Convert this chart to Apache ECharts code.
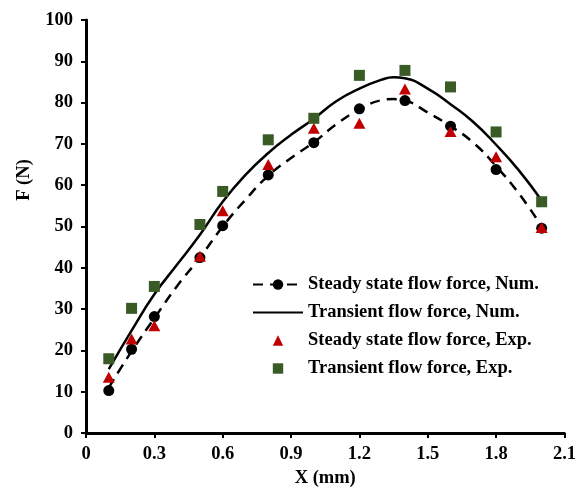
<!DOCTYPE html>
<html>
<head>
<meta charset="utf-8">
<script src="https://cdn.jsdelivr.net/npm/echarts@6/dist/echarts.min.js"></script>
<style>
  html, body { margin: 0; padding: 0; background: #fff; }
  #chart { width: 579px; height: 493px; }
</style>
</head>
<body>
<div id="chart"></div>
<script>
// measured points (X in mm, F in N)
var xExp = [0.1, 0.2, 0.3, 0.5, 0.6, 0.8, 1.0, 1.2, 1.4, 1.6, 1.8, 2.0]
var steadyPts = [10.3, 20.3, 28.2, 42.5, 50.2, 62.5, 70.3, 78.5, 80.5, 74.3, 63.8, 49.6]
var steadyExp = [13.5, 22.8, 26.0, 42.8, 53.8, 65.0, 73.8, 75.0, 83.3, 73.0, 66.9, 49.8]
var transientExp = [18.0, 30.2, 35.5, 50.5, 58.5, 71.0, 76.2, 86.6, 87.8, 83.8, 72.9, 56.0]

// numerical curves
var xNum = [0.1, 0.2, 0.3, 0.4, 0.5, 0.6, 0.7, 0.8, 0.9, 1.0, 1.1, 1.2, 1.3, 1.35, 1.4, 1.5, 1.6, 1.7, 1.8, 1.9, 2.0]
var steadyNum = [11.0, 19.8, 27.8, 35.6, 42.5, 50.0, 56.5, 62.3, 66.6, 70.4, 74.8, 78.3, 80.6, 80.85, 80.5, 77.6, 74.3, 70.3, 64.6, 58.0, 50.0]
var transientNum = [15.5, 24.8, 33.6, 40.8, 48.0, 56.0, 62.5, 67.8, 72.2, 76.1, 80.4, 83.4, 85.6, 86.15, 85.9, 83.4, 79.6, 75.3, 69.8, 63.6, 56.3]

var seriesNames = [
  'Steady state flow force, Num.',
  'Transient flow force, Num.',
  'Steady state flow force, Exp.',
  'Transient flow force, Exp.'
]

function pairs (xs, ys) {
  return xs.map(function (x, i) { return [x, ys[i]] })
}

var font = 'Liberation Serif'
var chart = echarts.init(document.getElementById('chart'))

var option = {
  animation: false,
  backgroundColor: '#fff',
  grid: { left: 86, right: 12, top: 20, bottom: 59, containLabel: false },
  legend: {
    data: seriesNames,
    orient: 'vertical',
    left: 247,
    top: 270,
    itemWidth: 50,
    itemHeight: 13,
    itemGap: 9,
    textStyle: { fontFamily: font, fontWeight: 'bold', fontSize: 18.5, lineHeight: 18, color: '#000' }
  },
  graphic: [{
    type: 'text',
    x: 24,
    y: 180,
    rotation: Math.PI / 2,
    style: {
      text: 'F (N)',
      fontFamily: font,
      fontWeight: 'bold',
      fontSize: 18.5,
      fill: '#000',
      align: 'center',
      verticalAlign: 'middle'
    }
  }],
  xAxis: {
    type: 'value',
    min: 0,
    max: 2.1,
    interval: 0.3,
    name: 'X (mm)',
    nameLocation: 'middle',
    nameGap: 34,
    nameTextStyle: { fontFamily: font, fontWeight: 'bold', fontSize: 18.5, color: '#000' },
    axisLine: { lineStyle: { color: '#000', width: 3 } },
    axisTick: { show: true, length: 5, lineStyle: { color: '#000', width: 2 } },
    axisLabel: { margin: 12, fontFamily: font, fontWeight: 'bold', fontSize: 18.5, color: '#000' },
    splitLine: { show: false }
  },
  yAxis: {
    type: 'value',
    min: 0,
    max: 100,
    interval: 10,
    axisLine: { show: true, lineStyle: { color: '#000', width: 3 } },
    axisTick: { show: true, length: 5, lineStyle: { color: '#000', width: 2 } },
    axisLabel: { margin: 13, fontFamily: font, fontWeight: 'bold', fontSize: 18.5, color: '#000' },
    splitLine: { show: false }
  },
  series: [{
    name: seriesNames[0],
    type: 'line',
    smooth: true,
    symbol: 'circle',
    symbolSize: 10,
    showSymbol: false,
    itemStyle: { color: '#000' },
    lineStyle: { color: '#000', width: 2.5, type: [10, 7] },
    data: pairs(xNum, steadyNum),
    z: 2
  }, {
    name: seriesNames[1],
    type: 'line',
    smooth: true,
    symbol: 'none',
    itemStyle: { color: 'rgba(0,0,0,0)' },
    lineStyle: { color: '#000', width: 2.5 },
    data: pairs(xNum, transientNum),
    z: 2
  }, {
    name: 'steady points',
    type: 'scatter',
    symbol: 'circle',
    symbolSize: 11,
    itemStyle: { color: '#000', opacity: 1 },
    data: pairs(xExp, steadyPts),
    z: 3
  }, {
    // markers only, the connecting line is hidden
    name: seriesNames[2],
    type: 'line',
    symbol: 'triangle',
    symbolSize: [12, 11],
    showSymbol: true,
    itemStyle: { color: '#C00000', opacity: 1 },
    lineStyle: { width: 0, opacity: 0 },
    data: pairs(xExp, steadyExp),
    z: 4
  }, {
    name: seriesNames[3],
    type: 'line',
    symbol: 'rect',
    symbolSize: 11,
    showSymbol: true,
    itemStyle: { color: '#3A5A26', opacity: 1 },
    lineStyle: { width: 0, opacity: 0 },
    data: pairs(xExp, transientExp),
    z: 4
  }]
}

chart.setOption(option)
</script>
</body>
</html>
